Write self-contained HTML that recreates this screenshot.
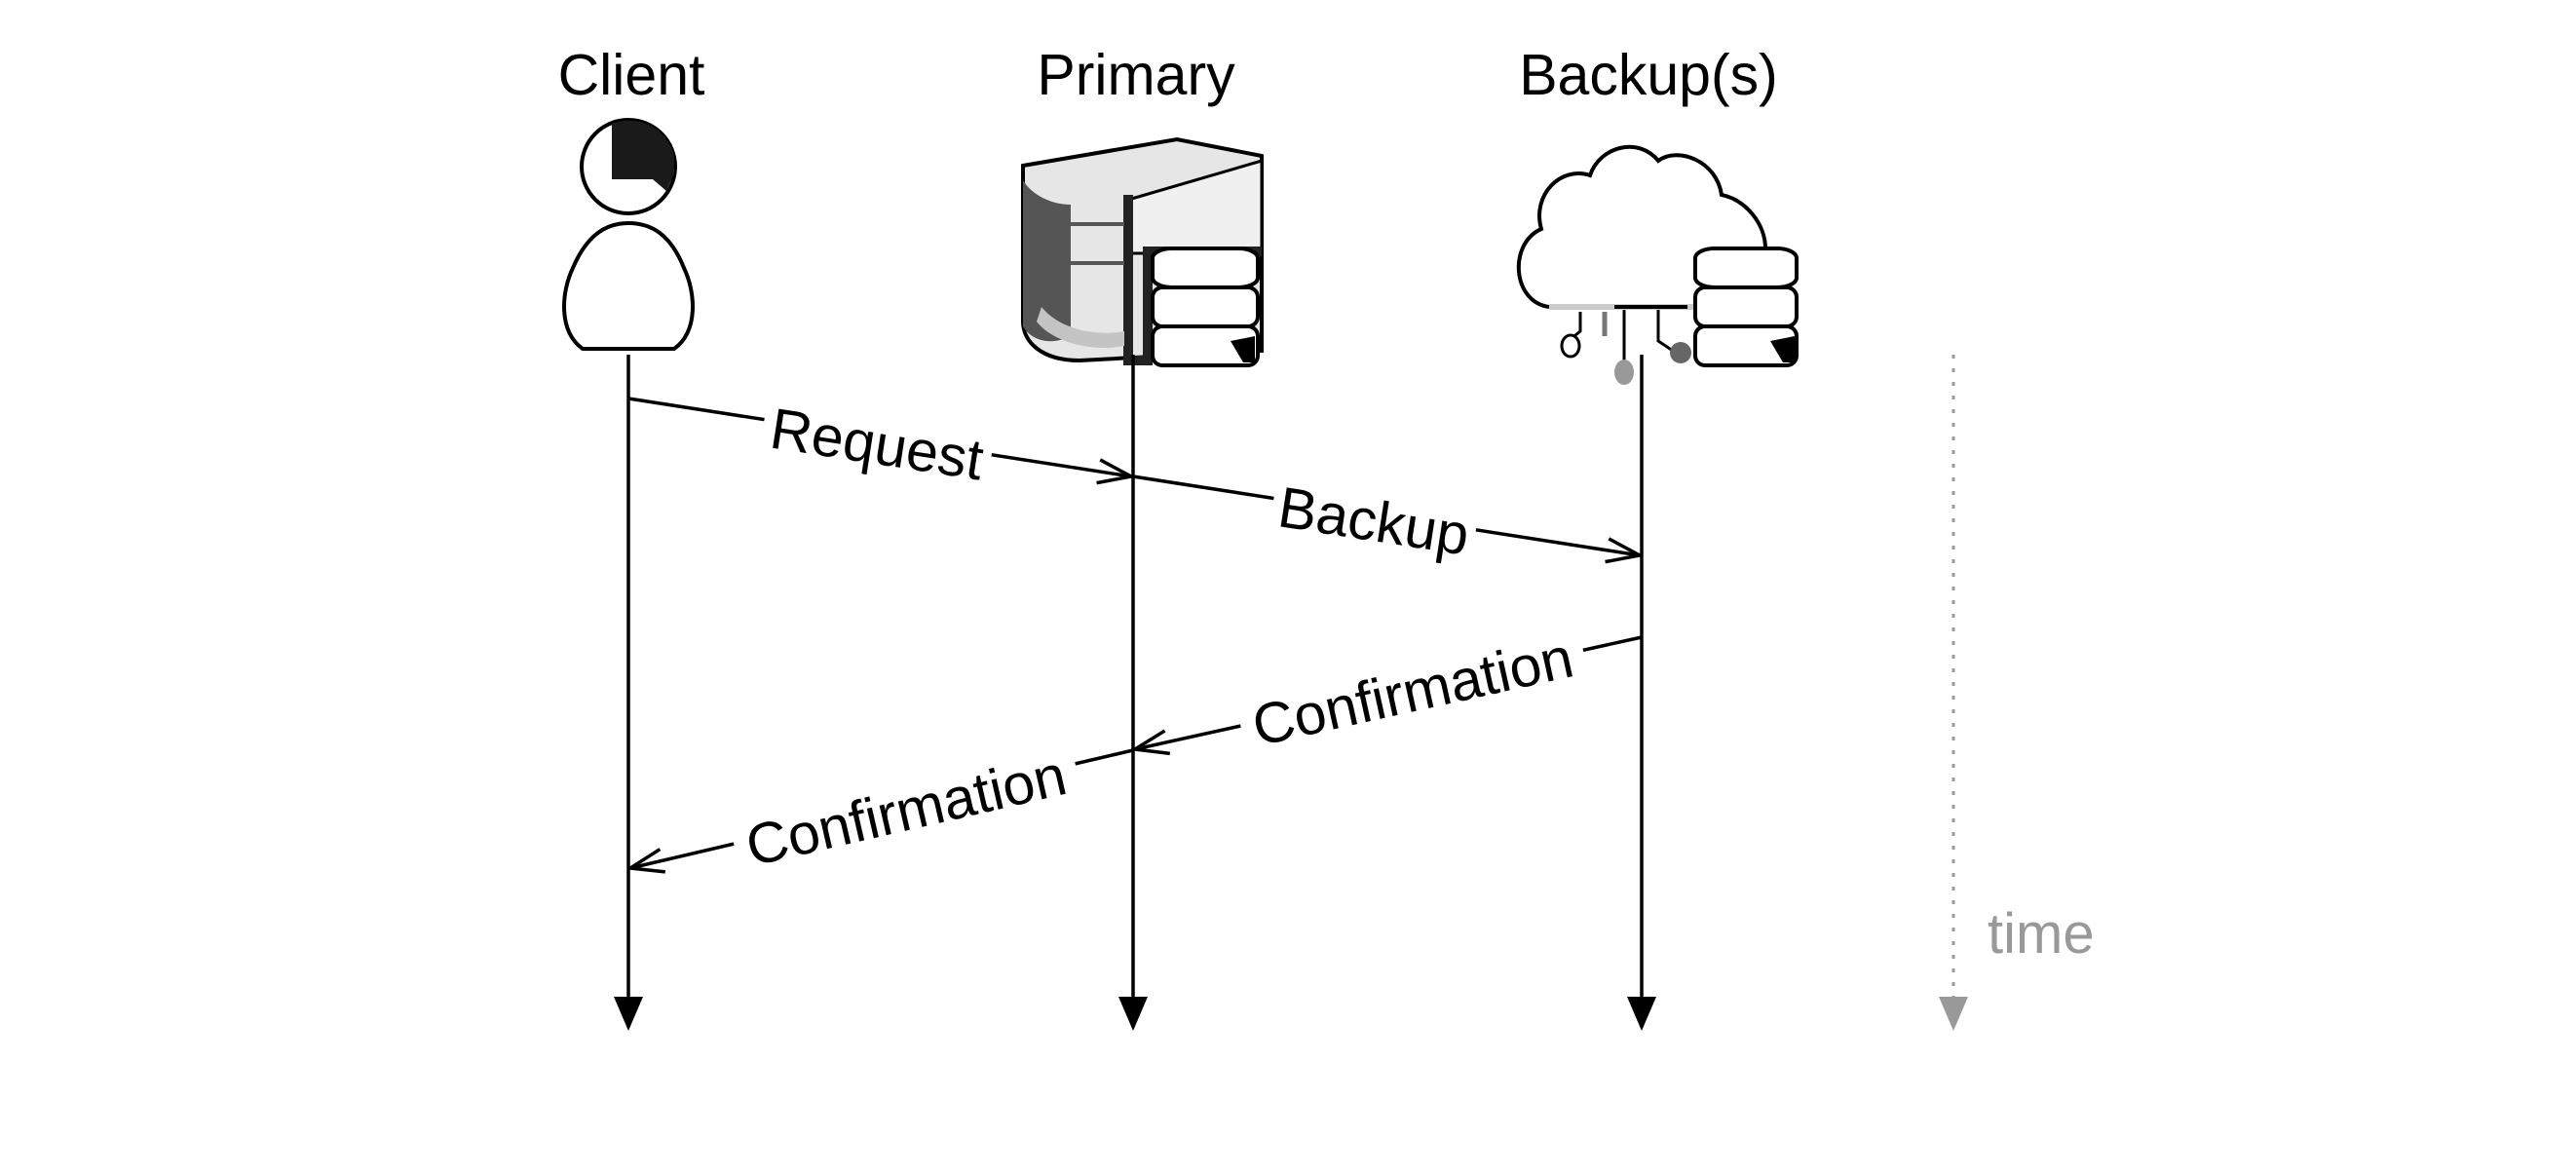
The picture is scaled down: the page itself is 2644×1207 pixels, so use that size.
<!DOCTYPE html>
<html><head><meta charset="utf-8"><style>
html,body{margin:0;padding:0;background:#fff}
svg{display:block}
text{font-family:"Liberation Sans",sans-serif}
</style></head><body>
<svg width="2644" height="1207" viewBox="0 0 2644 1207" xmlns="http://www.w3.org/2000/svg">
<defs>
<marker id="open" markerWidth="40" markerHeight="30" refX="38" refY="15" orient="auto" markerUnits="userSpaceOnUse">
<path d="M4,3 L38,15 L4,27" fill="none" stroke="#000" stroke-width="3.5"/>
</marker>
</defs>
<g font-size="59" text-anchor="middle" fill="#000">
<text x="648" y="97">Client</text>
<text x="1166" y="97">Primary</text>
<text x="1692" y="97">Backup(s)</text>
</g>
<!-- client icon -->
<circle cx="645" cy="171" r="48" fill="#fff" stroke="#000" stroke-width="4"/>
<path d="M628,127 A48,48 0 0 1 692,160 L692,178 L684,196 L670,184 L628,184 Z" fill="#1a1a1a"/>
<path d="M598,358 C573,340 576,300 588,275 C603,240 623,229 645,229 C668,229 688,240 702,275 C714,300 717,340 692,358 Z" fill="#fff" stroke="#000" stroke-width="4"/>
<!-- primary server -->
<path d="M1050,170 L1208,143 L1295,160 L1295,360 L1108,370 C1068,370 1050,350 1050,330 Z" fill="#e6e6e6" stroke="#000" stroke-width="4"/>
<path d="M1050,185 C1059,200 1079,210 1099,210 L1099,345 C1079,355 1059,350 1050,335 Z" fill="#555"/>
<path d="M1158,205 L1295,165 L1295,260 L1158,260 Z" fill="#f0f0f0" stroke="#000" stroke-width="3"/>
<path d="M1158,200 L1158,370 L1178,370 L1178,258 L1295,258" fill="none" stroke="#222" stroke-width="10"/>
<path d="M1069,315 C1089,340 1129,345 1154,340 L1154,355 C1119,362 1079,350 1064,330 Z" fill="#c4c4c4"/>
<line x1="1099" y1="230" x2="1154" y2="230" stroke="#555" stroke-width="4"/>
<line x1="1099" y1="270" x2="1154" y2="270" stroke="#555" stroke-width="4"/>
<g fill="#fff" stroke="#000" stroke-width="4">
<rect x="1183" y="255" width="108" height="40" rx="20" ry="10"/>
<rect x="1183" y="295" width="108" height="40" rx="10"/>
<rect x="1183" y="335" width="108" height="40" rx="10"/>
</g>
<path d="M1263,350 L1288,345 L1288,372 L1276,372 Z" fill="#000"/>
<!-- backup cloud -->
<path d="M1590,315 C1552,310 1548,250 1582,235 C1572,200 1602,170 1632,180 C1642,150 1682,140 1702,165 C1722,150 1762,165 1767,200 C1792,205 1812,230 1812,255 L1782,255" fill="#fff" stroke="#000" stroke-width="4"/>
<line x1="1590" y1="315" x2="1742" y2="315" stroke="#ccc" stroke-width="6"/>
<line x1="1657" y1="315" x2="1732" y2="315" stroke="#000" stroke-width="4"/>
<path d="M1622,320 L1622,340 L1612,348" fill="none" stroke="#000" stroke-width="3"/>
<ellipse cx="1612" cy="355" rx="9" ry="11" fill="#fff" stroke="#000" stroke-width="3"/>
<line x1="1647" y1="320" x2="1647" y2="345" stroke="#777" stroke-width="5"/>
<path d="M1667,318 L1667,370" stroke="#000" stroke-width="3"/>
<ellipse cx="1667" cy="382" rx="10" ry="13" fill="#999"/>
<path d="M1702,318 L1702,350 L1717,360" fill="none" stroke="#000" stroke-width="3"/>
<circle cx="1725" cy="362" r="11" fill="#666"/>
<g fill="#fff" stroke="#000" stroke-width="4">
<rect x="1740" y="255" width="104" height="40" rx="20" ry="10"/>
<rect x="1740" y="295" width="104" height="40" rx="10"/>
<rect x="1740" y="335" width="104" height="40" rx="10"/>
</g>
<path d="M1817,350 L1842,345 L1842,372 L1830,372 Z" fill="#000"/>
<!-- lifelines -->
<g stroke="#000" stroke-width="3.5">
<line x1="645" y1="364" x2="645" y2="1026"/>
<line x1="1163" y1="364" x2="1163" y2="1026"/>
<line x1="1685" y1="364" x2="1685" y2="1026"/>
</g>
<g fill="#000">
<path d="M630,1023 L660,1023 L645,1058 Z"/>
<path d="M1148,1023 L1178,1023 L1163,1058 Z"/>
<path d="M1670,1023 L1700,1023 L1685,1058 Z"/>
</g>
<line x1="2005" y1="364" x2="2005" y2="1026" stroke="#999" stroke-width="3" stroke-dasharray="4,10"/>
<path d="M1990,1023 L2020,1023 L2005,1058 Z" fill="#999"/>
<text x="2040" y="978" font-size="58" fill="#999">time</text>
<!-- messages -->
<g stroke="#000" stroke-width="3.5" fill="none" marker-end="url(#open)">
<line x1="645" y1="409" x2="1161" y2="489"/>
<line x1="1163" y1="489" x2="1683" y2="570"/>
<line x1="1685" y1="654" x2="1165" y2="769"/>
<line x1="1163" y1="770" x2="647" y2="891"/>
</g>
<g font-size="59" text-anchor="middle" fill="#000">
<g transform="translate(900,456) rotate(8.8)"><rect x="-118" y="-34" width="236" height="64" fill="#fff"/><text x="0" y="20">Request</text></g>
<g transform="translate(1410,535) rotate(8.8)"><rect x="-105" y="-34" width="210" height="64" fill="#fff"/><text x="0" y="20">Backup</text></g>
<g transform="translate(1450,710) rotate(-12.5)"><rect x="-180" y="-34" width="360" height="64" fill="#fff"/><text x="0" y="20">Confirmation</text></g>
<g transform="translate(930,832) rotate(-13)"><rect x="-180" y="-34" width="360" height="64" fill="#fff"/><text x="0" y="20">Confirmation</text></g>
</g>
</svg>
</body></html>
